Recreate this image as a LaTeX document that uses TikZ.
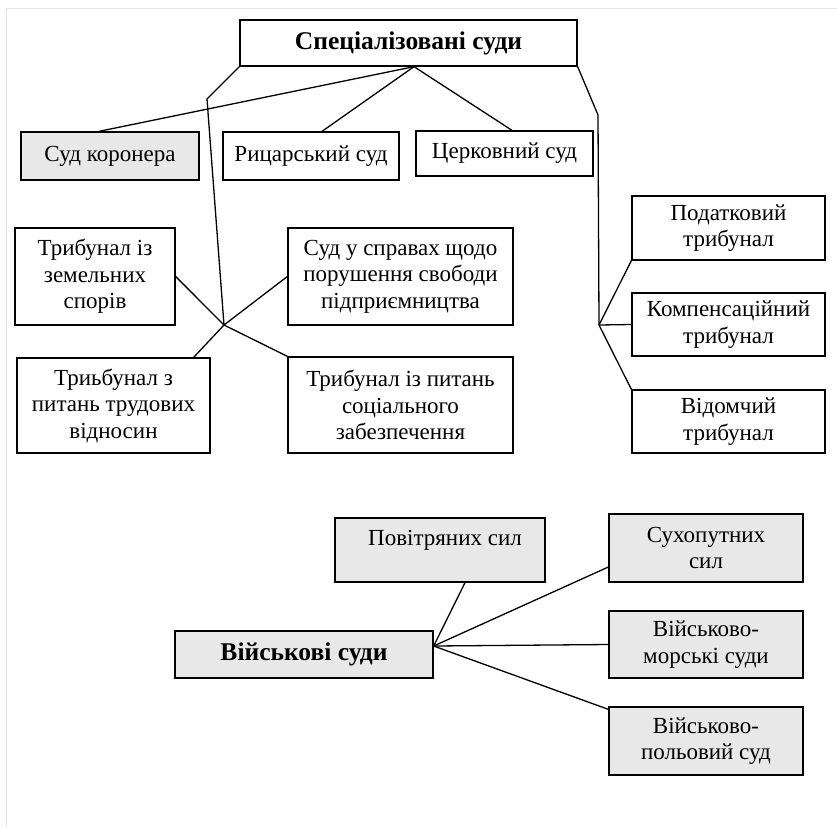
\documentclass[tikz,border=0pt]{standalone}
\usepackage{fontspec}
\setmainfont{Liberation Serif}
\usetikzlibrary{calc}
\definecolor{boxgray}{RGB}{232,232,232}
\definecolor{pageline}{RGB}{228,228,228}

\begin{document}
\begin{tikzpicture}[x=1pt,y=-1pt,
  court/.style={draw=black, line width=1.3pt, inner sep=0pt, rectangle,
    align=center, font=\fontsize{23}{26.5}\selectfont},
  shaded/.style={court, fill=boxgray},
  headline/.style={font=\fontsize{25.5}{30}\bfseries\selectfont},
  txt/.style={inner sep=0pt, align=center, font=\fontsize{23}{26.5}\selectfont},
  link/.style={line width=1.3pt, line join=round}
]
\useasboundingbox (0,0) rectangle (837,828);

% page frame
\draw[pageline, line width=1pt] (6,828) -- (6,8) -- (837,8);

% ---- specialised courts ----
\node[court, headline, minimum width=337pt, minimum height=46pt] (spec) at (408.5,43) {Спеціалізовані суди};

\node[shaded, minimum width=178pt, minimum height=48pt] (kor)  at (110,156)   {Суд коронера};
\node[court,  minimum width=176pt, minimum height=48pt] (ryc)  at (311,156)   {Рицарський суд};
\node[court,  minimum width=177pt, minimum height=45pt] (cerk) at (504.5,153.5) {Церковний суд};

\node[court, minimum width=160pt, minimum height=97pt] (zem)  at (95,276.5)   {Трибунал із\\земельних\\спорів};
\node[court, minimum width=225pt, minimum height=97pt] (sud)  at (400.5,276.5) {Суд у справах щодо\\порушення свободи\\підприємництва};
\node[court, minimum width=193pt, minimum height=95pt] (trib) at (113.5,405.5) {Триьбунал з\\питань трудових\\відносин};
\node[court, minimum width=225pt, minimum height=96pt] (soc)  at (400.5,405)  {Трибунал із питань\\соціального\\забезпечення};

\node[court, minimum width=193pt, minimum height=64pt] (pod)  at (728.5,228)  {Податковий\\трибунал};
\node[court, minimum width=193pt, minimum height=63pt] (komp) at (728.5,324.5) {Компенсаційний\\трибунал};
\node[court, minimum width=193pt, minimum height=63pt] (vid)  at (728.5,421.5) {Відомчий\\трибунал};

% connector junctions
\coordinate (hubT)  at ([xshift=5.5pt]spec.south);
\coordinate (bendL) at (207,99);
\coordinate (hubL)  at (224,325);
\coordinate (bendR) at (598,115);
\coordinate (hubR)  at (599,325);

\draw[link] (hubT) -- ([xshift=-11pt]kor.north);
\draw[link] (hubT) -- ([xshift=11pt]ryc.north);
\draw[link] (hubT) -- ([xshift=7.5pt]cerk.north);

\draw[link] (spec.south west) -- (bendL) -- (hubL);
\draw[link] (zem.east) -- (hubL) -- (soc.north west);
\draw[link] (sud.west) -- (hubL) -- ([xshift=-17pt]trib.north east);

\draw[link] (spec.south east) -- (bendR) -- (hubR);
\draw[link] (hubR) -- (pod.south west);
\draw[link] (hubR) -- (komp.west);
\draw[link] (hubR) -- (vid.north west);

% ---- military courts ----
\node[shaded, headline, minimum width=258pt, minimum height=47pt] (vs) at (304,654.5) {Військові суди};

\node[shaded, minimum width=210pt, minimum height=64pt] (pov) at (440,550) {};
\node[txt] (povt) at ([xshift=5pt,yshift=10pt]pov.center) {Повітряних сил};

\node[shaded, minimum width=194pt, minimum height=68pt] (sukh)  at (706,548)   {Сухопутних\\сил};
\node[shaded, minimum width=194pt, minimum height=67pt] (morsk) at (706,644.5) {Військово-\\морські суди};
\node[shaded, minimum width=194pt, minimum height=68pt] (pol)   at (706,741)   {Військово-\\польовий суд};

\coordinate (hubB) at ([yshift=8.5pt]vs.east);

\draw[link] ([xshift=25pt]pov.south) -- (hubB);
\draw[link] (hubB) -- ([yshift=-19pt]sukh.west);
\draw[link] (hubB) -- (morsk.west);
\draw[link] (hubB) -- ([yshift=-3pt]pol.north west);
\end{tikzpicture}
\end{document}
